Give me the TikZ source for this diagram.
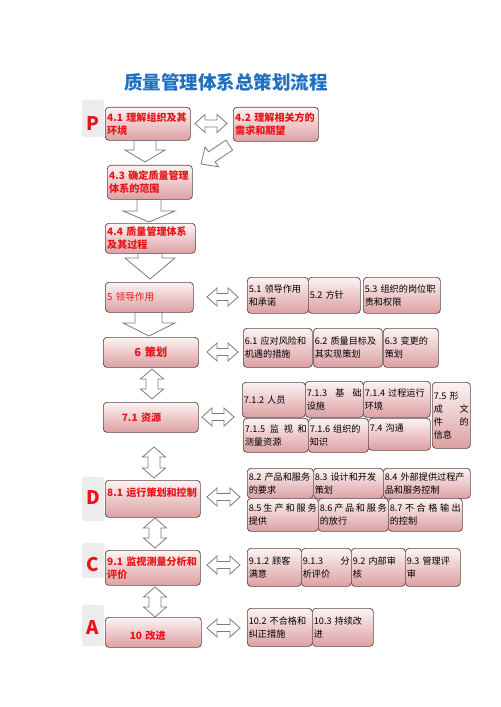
\documentclass[tikz,border=0pt]{standalone}
\usepackage{fontspec}
\setmainfont{Noto Sans CJK SC}
\definecolor{titleblue}{RGB}{31,112,192}
\definecolor{labred}{RGB}{232,20,28}
\definecolor{boxedge}{RGB}{92,72,72}
\definecolor{boxtop}{RGB}{253,243,243}
\definecolor{boxbot}{RGB}{220,160,162}
\definecolor{arrowgray}{RGB}{125,125,125}
\definecolor{labgray}{RGB}{236,236,236}

\begin{document}
\begin{tikzpicture}[x=0.03cm, y=-0.03cm, every node/.style={inner sep=0pt},
  mainbox/.style={draw=boxedge, line width=0.6pt, rounded corners=3pt, top color=boxtop, bottom color=boxbot,
    anchor=north west, inner xsep=1.5pt, align=left, text=labred, font=\fontsize{8.6}{11}\selectfont\bfseries},
  subbox/.style={draw=boxedge, line width=0.6pt, rounded corners=3pt, top color=boxtop, bottom color=boxbot,
    anchor=north west, inner xsep=1.2pt, align=left, font=\fontsize{7.8}{11}\selectfont},
  letterbg/.style={fill=labgray, rounded corners=2pt},
  pdca/.style={text=labred, font=\fontsize{16}{16}\selectfont\bfseries},
  blockarrow/.style={draw=arrowgray, fill=white, line width=0.7pt},
  pics/hdbl/.style={code={\draw[blockarrow] (0,0) -- (10,-9) -- (10,-3.5) -- (#1-10,-3.5) -- (#1-10,-9) -- (#1,0)
    -- (#1-10,9) -- (#1-10,3.5) -- (10,3.5) -- (10,9) -- cycle;}},
  pics/vdbl/.style={code={\draw[blockarrow] (0,0) -- (11.5,10) -- (6,10) -- (6,#1-10) -- (11.5,#1-10) -- (0,#1)
    -- (-11.5,#1-10) -- (-6,#1-10) -- (-6,10) -- (-11.5,10) -- cycle;}}]
  % --- page ----------------------------------------------------------
  \fill[white] (0,0) rectangle (500,707);
  \useasboundingbox (0,0) rectangle (500,707);
  \node[text=titleblue, font=\fontsize{15.8}{18}\selectfont\bfseries] (title) at (226,82) {质量管理体系总策划流程};
  % --- PDCA letters --------------------------------------------------
  \fill[letterbg] (82,100) rectangle (104,137);
  \fill[letterbg] (82,477) rectangle (104,521);
  \fill[letterbg] (82,543) rectangle (104,578);
  \fill[letterbg] (82,605) rectangle (104,646);
  \node[pdca] (lp) at (93,124) {P};
  \node[pdca] (ld) at (93,498) {D};
  \node[pdca] (lc) at (93,565) {C};
  \node[pdca] (la) at (93,628) {A};
  % --- block arrows down the left column -----------------------------
  \draw[blockarrow] (134,140) -- (156,140) -- (156,150) -- (165,150) -- (145,162) -- (125,150) -- (134,150) -- cycle;
  \draw[blockarrow] (226,140.1) -- (232.6,150.1) -- (215.1,161.8) -- (218.5,166.8) -- (201,164) -- (205.1,146.8) -- (208.5,151.8) -- cycle;
  \draw[blockarrow] (137,199) -- (161,199) -- (161,211) -- (175,211) -- (149,222) -- (123,211) -- (137,211) -- cycle;
  \draw[blockarrow] (138,253) -- (162,253) -- (162,258) -- (175,258) -- (150,279) -- (125,258) -- (138,258) -- cycle;
  \draw[blockarrow] (135,312) -- (162,312) -- (162,323) -- (175,323) -- (149,336) -- (123,323) -- (135,323) -- cycle;
  \pic (v1) at (152,369) {vdbl=30};
  \pic (v2) at (154,447) {vdbl=31};
  \pic (v3) at (155,518) {vdbl=30};
  \pic (v4) at (155,587) {vdbl=30};
  % --- double arrows to the clause boxes -----------------------------
  \pic (h1) at (195,123.5) {hdbl=32};
  \pic (h5) at (207,297) {hdbl=31};
  \pic (h6) at (207,352) {hdbl=31};
  \pic (h7) at (202,417) {hdbl=32};
  \pic (h8) at (207,497) {hdbl=33};
  \pic (h9) at (207,565) {hdbl=33};
  \pic (h10) at (207,628) {hdbl=33};
  % --- main boxes ----------------------------------------------------
  \node[mainbox, minimum width=2.55cm, minimum height=0.99cm, text width=2.44cm] (b41) at (105,107) {4.1~理解组织及其\\环境};
  \node[mainbox, minimum width=2.55cm, minimum height=1.02cm, text width=2.44cm] (b42) at (233,107) {4.2~理解相关方的\\需求和期望};
  \node[mainbox, minimum width=2.55cm, minimum height=1.02cm, text width=2.44cm] (b43) at (107,165) {4.3~确定质量管理\\体系的范围};
  \node[mainbox, minimum width=2.70cm, minimum height=0.90cm, text width=2.59cm] (b44) at (105,223) {4.4~质量管理体系\\及其过程};
  \node[mainbox, minimum width=2.64cm, minimum height=0.90cm, text width=2.53cm, font=\fontsize{8.2}{10}\selectfont] (b5) at (105,282) {5 领导作用};
  \node[mainbox, minimum width=2.85cm, minimum height=0.90cm, text width=2.74cm, align=center, font=\fontsize{9.5}{11}\selectfont\bfseries] (b6) at (103,337) {6 策划};
  \node[mainbox, minimum width=2.85cm, minimum height=0.90cm, text width=2.74cm] (b71) at (103,402) {\hspace*{0.5cm}7.1 资源};
  \node[mainbox, minimum width=2.85cm, minimum height=1.11cm, text width=2.74cm, text depth=12pt] (b81) at (105,480) {8.1~运行策划和控制};
  \node[mainbox, minimum width=2.85cm, minimum height=1.05cm, text width=2.74cm] (b91) at (105,550) {9.1~监视测量分析和\\评价};
  \node[mainbox, minimum width=2.88cm, minimum height=0.90cm, text width=2.77cm, text height=13pt] (b10) at (105,617) {\hspace*{0.68cm}10 改进};
  % --- clause 5 and 6 ------------------------------------------------
  \node[subbox, minimum width=1.83cm, minimum height=1.08cm, text width=1.74cm] (s51) at (247,277) {5.1 领导作用\\和承诺};
  \node[subbox, minimum width=1.56cm, minimum height=1.08cm, text width=1.47cm] (s52) at (308,277) {5.2 方针};
  \node[subbox, minimum width=2.31cm, minimum height=1.08cm, text width=2.22cm] (s53) at (363,277) {5.3~组织的岗位职\\责和权限};
  \node[subbox, minimum width=2.07cm, minimum height=1.17cm, text width=1.98cm] (s61) at (243,328) {6.1~应对风险和\\机遇的措施};
  \node[subbox, minimum width=2.07cm, minimum height=1.17cm, text width=1.98cm] (s62) at (313,328) {6.2~质量目标及\\其实现策划};
  \node[subbox, minimum width=1.65cm, minimum height=1.17cm, text width=1.56cm] (s63) at (383,328) {6.3 变更的\\策划};
  % --- clause 7 ------------------------------------------------------
  \node[subbox, minimum width=1.89cm, minimum height=1.05cm, text width=1.80cm] (s712) at (242,382) {7.1.2 人员};
  \node[subbox, minimum width=1.74cm, minimum height=1.08cm, text width=1.65cm] (s713) at (305,381) {7.1.3\hfill 基\hfill 础\\设施};
  \node[subbox, minimum width=2.01cm, minimum height=1.08cm, text width=1.92cm] (s714) at (363,381) {7.1.4~过程运行\\环境};
  \node[subbox, minimum width=1.14cm, minimum height=1.98cm, text width=1.05cm] (s75) at (432,382) {7.5 形\\成\hfill 文\\件\hfill 的\\信息};
  \node[subbox, minimum width=1.95cm, minimum height=1.02cm, text width=1.86cm] (s715) at (243,418) {7.1.5\hfill 监\hfill 视\hfill 和\\测量资源};
  \node[subbox, minimum width=1.80cm, minimum height=1.02cm, text width=1.71cm] (s716) at (308,418) {7.1.6~组织的\\知识};
  \node[subbox, minimum width=1.86cm, minimum height=0.96cm, text width=1.77cm, text depth=11pt] (s74) at (368,418) {7.4 沟通};
  % --- clause 8 ------------------------------------------------------
  \node[subbox, minimum width=1.98cm, minimum height=0.90cm, text width=1.89cm] (s82) at (247,468) {8.2~产品和服务\\的要求};
  \node[subbox, minimum width=2.10cm, minimum height=0.90cm, text width=2.01cm] (s83) at (313,468) {8.3~设计和开发\\策划};
  \node[subbox, minimum width=2.61cm, minimum height=0.90cm, text width=2.52cm] (s84) at (383,468) {8.4~外部提供过程产\\品和服务控制};
  \node[subbox, minimum width=2.13cm, minimum height=0.99cm, text width=2.04cm] (s85) at (247,498) {8.5\hfill 生\hfill 产\hfill 和\hfill 服\hfill 务\\提供};
  \node[subbox, minimum width=2.10cm, minimum height=0.99cm, text width=2.01cm] (s86) at (318,498) {8.6\hfill 产\hfill 品\hfill 和\hfill 服\hfill 务\\的放行};
  \node[subbox, minimum width=2.22cm, minimum height=0.99cm, text width=2.13cm] (s87) at (388,498) {8.7\hfill 不\hfill 合\hfill 格\hfill 输\hfill 出\\的控制};
  % --- clause 9 and 10 -----------------------------------------------
  \node[subbox, minimum width=1.62cm, minimum height=1.14cm, text width=1.53cm] (s912) at (247,548) {9.1.2 顾客\\满意};
  \node[subbox, minimum width=1.50cm, minimum height=1.14cm, text width=1.41cm] (s913) at (301,548) {9.1.3\hfill 分\\析评价};
  \node[subbox, minimum width=1.62cm, minimum height=1.14cm, text width=1.53cm] (s92) at (351,548) {9.2 内部审\\核};
  \node[subbox, minimum width=1.65cm, minimum height=1.14cm, text width=1.56cm] (s93) at (405,548) {9.3 管理评\\审};
  \node[subbox, minimum width=1.95cm, minimum height=1.14cm, text width=1.86cm] (s102) at (247,608) {10.2~不合格和\\纠正措施};
  \node[subbox, minimum width=1.83cm, minimum height=1.14cm, text width=1.74cm] (s103) at (312,608) {10.3 持续改\\进};
\end{tikzpicture}
\end{document}
